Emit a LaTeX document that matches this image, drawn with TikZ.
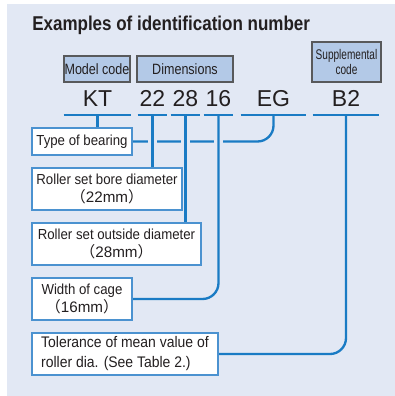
\documentclass[tikz,border=0pt]{standalone}
\usepackage{fontspec}
\setmainfont{Liberation Sans}
\newfontfamily\titlefam[FakeStretch=0.85]{Liberation Sans}
\newfontfamily\topfam[FakeStretch=0.84]{Liberation Sans}
\newfontfamily\suppfam[FakeStretch=0.72]{Liberation Sans}
\newfontfamily\lowfam[FakeStretch=0.91]{Liberation Sans}
\newfontfamily\codefam{Liberation Sans}
\newfontfamily\cjk{Noto Sans CJK JP}
\newdimen\pxunit \pxunit=0.75pt
\definecolor{panelcol}{HTML}{E2E8F4}
\definecolor{lineblue}{HTML}{1A7BC4}
\definecolor{boxfill}{HTML}{B3C9E7}
\definecolor{topborder}{HTML}{58595B}
\definecolor{lowborder}{HTML}{4B92D0}
\definecolor{inkcol}{HTML}{231F20}
\pgfdeclarelayer{back}
\pgfdeclarelayer{lines}
\pgfsetlayers{back,lines,main}
\newcommand\mmline[1]{{\codefam\fontsize{11.4}{13.2}\selectfont{\cjk （}#1{\cjk ）}}}
\begin{document}
\begin{tikzpicture}[x=0.75pt,y=-0.75pt,
  every node/.style={text=inkcol},
  topbox/.style={draw=topborder, line width=0.9pt, fill=boxfill, inner sep=0pt,
    font=\topfam\fontsize{11.2}{12}\selectfont},
  suppbox/.style={topbox, font=\suppfam\fontsize{10.5}{10.9}\selectfont, align=center},
  codetext/.style={font=\codefam\fontsize{17.25}{20}\selectfont, anchor=south,
    inner xsep=0pt, inner ysep=0pt, text depth=8\pxunit},
  lowbox/.style={draw=lowborder, line width=0.8pt, fill=white, inner sep=0pt,
    font=\lowfam\fontsize{10.9}{13.4}\selectfont, align=center},
  conn/.style={draw=lineblue, line width=1.75pt},
  gapped/.style={preaction={draw=panelcol, line width=6.5pt}},
  roundbend/.style={rounded corners=12pt}
]
\useasboundingbox (0,0) rectangle (395,396);
\begin{pgfonlayer}{back}
  \fill[panelcol] (7,4) rectangle (395,396);
\end{pgfonlayer}

\node[anchor=base west, inner sep=0pt, font=\titlefam\bfseries\fontsize{15}{18}\selectfont]
  (title) at (32,30) {Examples of identification number};

% header boxes
\node[topbox, minimum width=66\pxunit, minimum height=26\pxunit] (model) at (97,69) {Model code};
\node[topbox, minimum width=96\pxunit, minimum height=26\pxunit] (dims) at (185,69) {Dimensions};
\node[suppbox, minimum width=69\pxunit, minimum height=40\pxunit] (supp) at (346.5,62) {Supplemental\\code};

% code letters
\node[codetext, minimum width=67\pxunit] (kt) at (97.5,115) {KT};
\node[codetext, minimum width=29\pxunit] (n22) at (152.5,115) {22};
\node[codetext, minimum width=29\pxunit] (n28) at (185.5,115) {28};
\node[codetext, minimum width=29\pxunit] (n16) at (218.5,115) {16};
\node[codetext, minimum width=65\pxunit] (eg) at (273.5,115) {EG};
\node[codetext, minimum width=66\pxunit] (b2) at (346,115) {B2};

% description boxes
\node[lowbox, minimum width=100\pxunit, minimum height=27\pxunit] (bearing) at (82,141.5) {Type of bearing};
\node[lowbox, minimum width=150\pxunit, minimum height=42\pxunit] (bore) at (107,189)
  {Roller set bore diameter\\\mmline{22mm}};
\node[lowbox, minimum width=169\pxunit, minimum height=42\pxunit] (outer) at (116.5,244)
  {Roller set outside diameter\\\mmline{28mm}};
\node[lowbox, minimum width=100\pxunit, minimum height=42\pxunit] (cage) at (82,299)
  {Width of cage\\\mmline{16mm}};
\node[lowbox, minimum width=186\pxunit, minimum height=42\pxunit, align=left,
  font=\lowfam\fontsize{11.5}{15}\selectfont] (tol) at (125,354)
  {Tolerance of mean value of\\roller dia. (See Table 2.)};

\begin{pgfonlayer}{lines}
  \draw[conn, roundbend] (eg.south) |- (bearing.east);
  \draw[conn] (kt.south) -- (kt.south |- bearing.north);
  \draw[conn, gapped] (n22.south) -- (n22.south |- bore.north);
  \draw[conn, gapped] (n28.south) -- (n28.south |- outer.north);
  \draw[conn, gapped, roundbend] (n16.south) |- (cage.east);
  \draw[conn, roundbend] (b2.south) |- (tol.east);
  \foreach \n in {kt,n22,n28,n16,eg,b2}
    \draw[conn] (\n.south west) -- (\n.south east);
\end{pgfonlayer}
\end{tikzpicture}
\end{document}
